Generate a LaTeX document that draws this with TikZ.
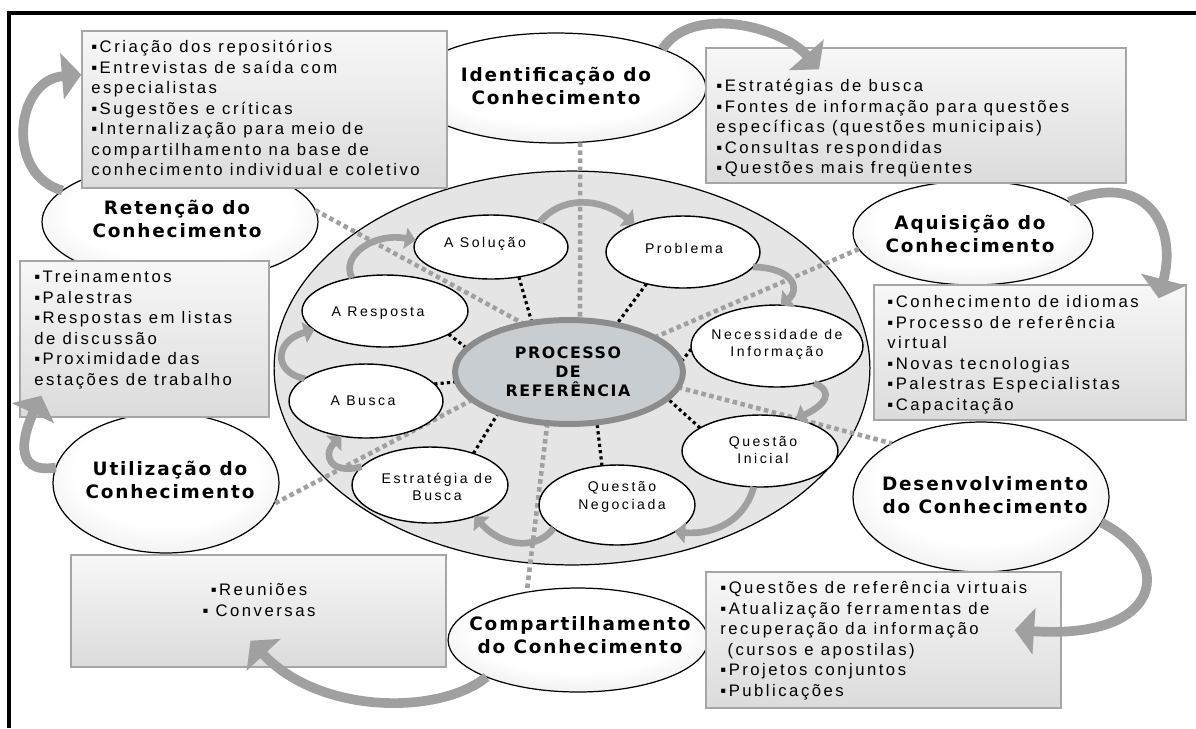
\documentclass[tikz,border=0pt]{standalone}
\usepackage{fontspec}
\setmainfont{Liberation Sans}
\newfontfamily\bodyf[LetterSpace=15]{Liberation Sans}
\newfontfamily\innerf[LetterSpace=18]{Liberation Sans}
\newfontfamily\headf[LetterSpace=10]{DejaVu Sans}
\usetikzlibrary{shapes.geometric,arrows.meta,calc}
\pgfdeclarelayer{back}
\pgfdeclarelayer{lines}
\pgfsetlayers{back,lines,main}
\definecolor{procfill}{RGB}{200,205,210}
\definecolor{arrowgray}{RGB}{160,160,160}
\definecolor{dotgray}{RGB}{160,160,160}
\pgfdeclareradialshading{ellshade}{\pgfpoint{0bp}{6bp}}{color(0bp)=(white); color(20bp)=(white); color(50bp)=(black!18); color(72bp)=(black!18)}
\begin{document}
\begin{tikzpicture}[x=0.02cm,y=-0.02cm,
 ell/.style 2 args={ellipse,inner sep=0pt,outer sep=0pt,minimum width=#1*0.04cm,minimum height=#2*0.04cm},
 outerell/.style={draw=black,line width=0.7pt,shading=ellshade},
 innerell/.style={draw=black,line width=0.8pt,fill=white},
 boxst/.style 2 args={rectangle,draw=black!35,line width=0.8pt,inner sep=0pt,top color=black!3,bottom color=black!14,minimum width=#1*0.02cm,minimum height=#2*0.02cm},
 bodytxt/.style={font=\bodyf\fontsize{9.5}{11.7}\selectfont,align=left,inner sep=0pt,anchor=north west},
 headtxt/.style={font=\headf\bfseries\fontsize{10.5}{13}\selectfont,align=center,inner sep=0pt},
 innertxt/.style={font=\innerf\fontsize{8}{9.8}\selectfont,align=center,inner sep=0pt},
 proctxt/.style={font=\headf\bfseries\fontsize{9}{10.8}\selectfont,align=center,inner sep=0pt},
 graydot/.style={draw=dotgray,line width=2.6pt,dash pattern=on 2.6pt off 2pt},
 blackdot/.style={draw=black,line width=1.8pt,dash pattern=on 1.8pt off 1.8pt},
 bigarrow/.style={draw=arrowgray,line width=5.5pt,-{Triangle[length=11pt,width=26pt]}},
 smallarrow/.style={draw=arrowgray,line width=3.8pt,-{Triangle[length=6pt,width=12pt]}}
]
\useasboundingbox (0,0) rectangle (1196,728);
\begin{pgfonlayer}{back}
\fill[white] (0,0) rectangle (1196,728);
\draw[line width=2.3pt] (1196,13) -- (9,13) -- (9,728);
\node[ell={298}{197},draw=black,line width=0.7pt,fill=black!10] (big) at (572,368) {};
\node[ell={150}{55},outerell] (ident) at (556,88) {};
\node[ell={138}{60},outerell] (reten) at (180,222) {};
\node[ell={120}{52},outerell] (aqui) at (973,233) {};
\node[ell={128}{75},outerell] (dev) at (981,497) {};
\node[ell={113}{70},outerell] (util) at (166,483) {};
\node[ell={130}{52},outerell] (comp) at (578,640) {};
\node[headtxt] (identt) at (556,86) {Identificação do\\Conhecimento};
\node[headtxt] (retent) at (177,219) {Retenção do\\Conhecimento};
\node[headtxt] (aquit) at (970,234) {Aquisição do\\Conhecimento};
\node[headtxt] (devt) at (985,495) {Desenvolvimento\\do Conhecimento};
\node[headtxt] (utilt) at (170,480) {Utilização do\\Conhecimento};
\node[headtxt] (compt) at (580,635) {Compartilhamento\\do Conhecimento};
\node[boxst={365}{157}] (B1) at (264.5,109.5) {};
\node[boxst={420}{135}] (B2) at (916,115.5) {};
\node[boxst={249}{156}] (B3) at (144.5,339) {};
\node[boxst={312}{135}] (B4) at (1030,352.5) {};
\node[boxst={355}{136}] (B5) at (883.5,640) {};
\node[boxst={375}{112}] (B6) at (258.5,611) {};
\node[bodytxt] (t1) at (91,40) {▪Criação dos repositórios\\▪Entrevistas de saída com\\especialistas\\▪Sugestões e críticas\\▪Internalização para meio de\\compartilhamento na base de\\conhecimento individual e coletivo};
\node[bodytxt] (t2) at (716,79) {▪Estratégias de busca\\▪Fontes de informação para questões\\específicas (questões municipais)\\▪Consultas respondidas\\▪Questões mais freqüentes};
\node[bodytxt] (t3) at (34,270) {▪Treinamentos\\▪Palestras\\▪Respostas em listas\\de discussão\\▪Proximidade das\\estações de trabalho};
\node[bodytxt] (t4) at (887,295) {▪Conhecimento de idiomas\\▪Processo de referência\\virtual\\▪Novas tecnologias\\▪Palestras Especialistas\\▪Capacitação};
\node[bodytxt] (t5) at (720,581) {▪Questões de referência virtuais\\▪Atualização ferramentas de\\recuperação da informação\\\ (cursos e apostilas)\\▪Projetos conjuntos\\▪Publicações};
\node[bodytxt,anchor=north,align=center] (t6) at (259,583) {▪Reuniões\\▪ Conversas};
\end{pgfonlayer}
% inner ellipses
\node[ell={77}{32},innerell] (sol) at (491,247) {};
\node[ell={77}{36},innerell] (prob) at (683,252) {};
\node[ell={83}{36},innerell] (resp) at (385,311) {};
\node[ell={77}{37},innerell] (bus) at (366,401) {};
\node[ell={78}{38},innerell] (est) at (430,485) {};
\node[ell={78}{40},innerell] (qn) at (617,505) {};
\node[ell={86}{41},innerell] (nec) at (777,346) {};
\node[ell={78}{36},innerell] (qi) at (760,451) {};
\node[ell={114}{52},draw=black!45,line width=3.4pt,fill=procfill] (proc) at (569,372) {};
\node[innertxt] (solt) at (485,244) {A Solução};
\node[innertxt] (probt) at (684,248) {Problema};
\node[innertxt] (respt) at (378,313) {A Resposta};
\node[innertxt] (bust) at (363,401) {A Busca};
\node[innertxt] (estt) at (437,487) {Estratégia de\\Busca};
\node[innertxt] (qnt) at (622,497) {Questão\\Negociada};
\node[innertxt] (nect) at (777,344) {Necessidade de\\Informação};
\node[innertxt] (qit) at (763,450) {Questão\\Inicial};
\node[proctxt] (proct) at (568,372) {PROCESSO\\DE\\REFERÊNCIA};
% connectors under the ellipses
\begin{pgfonlayer}{lines}
\draw[graydot] (ident.-66) -- (proc.78);
\draw[graydot] (reten.5) -- (proc.133);
\draw[graydot] (aqui.188) -- (proc.22);
\draw[graydot] (proc.-8) -- (dev.149);
\draw[graydot] (proc.-113) -- (comp.137);
\draw[graydot] (proc.-164) -- (util.-11);
\draw[blackdot] (sol.-47) -- (proc.127);
\draw[blackdot] (prob.-139) -- (proc.45);
\draw[blackdot] (resp.-20) -- (proc.167);
\draw[blackdot] (bus.14) -- (proc.-175);
\draw[blackdot] (est.36) -- (proc.-150);
\draw[blackdot] (qn.111) -- (proc.-61);
\draw[blackdot] (nec.182) -- (proc.5);
\draw[blackdot] (qi.159) -- (proc.-15);
\end{pgfonlayer}
% cycle arrows between inner ellipses
\draw[smallarrow] (sol.27) .. controls (560,197) and (598,196) .. (prob.150);
\draw[smallarrow] (prob.-12) .. controls (795,268) and (800,290) .. (nec.85);
\draw[smallarrow] (nec.-45) .. controls (835,392) and (825,405) .. (qi.42);
\draw[smallarrow] (qi.-100) .. controls (745,520) and (715,535) .. (qn.-25);
\draw[smallarrow] (qn.-160) .. controls (540,548) and (505,550) .. (est.-35);
\draw[smallarrow] (est.165) .. controls (330,475) and (322,455) .. (bus.-125);
\draw[smallarrow] (bus.160) .. controls (272,372) and (275,340) .. (resp.-165);
\draw[smallarrow] (resp.135) .. controls (340,255) and (375,232) .. (sol.175);
% outer arrows
\coordinate (a1end) at ($(B1.north west)!0.28!(B1.south west)$);
\coordinate (a2end) at ($(B2.north west)!0.27!(B2.north east)+(0,22)$);
\coordinate (a3end) at ($(B4.north east)+(-28,14)$);
\coordinate (a4end) at ($(B5.east)+(-47,-10)$);
\coordinate (a5end) at ($(B6.south)+(-8,-27)$);
\coordinate (a6end) at ($(B3.south west)+(22,-22)$);
\draw[bigarrow] (reten.165) .. controls (5,175) and (15,80) .. (a1end);
\draw[bigarrow] (ident.20) .. controls (690,5) and (780,25) .. (a2end);
\draw[bigarrow] (aqui.18) .. controls (1145,170) and (1178,225) .. (a3end);
\draw[bigarrow] (dev.-12) .. controls (1175,560) and (1165,640) .. (a4end);
\draw[bigarrow] (comp.-158) .. controls (440,715) and (320,715) .. (a5end);
\draw[bigarrow] (util.172) .. controls (10,475) and (25,430) .. (a6end);
\end{tikzpicture}
\end{document}
